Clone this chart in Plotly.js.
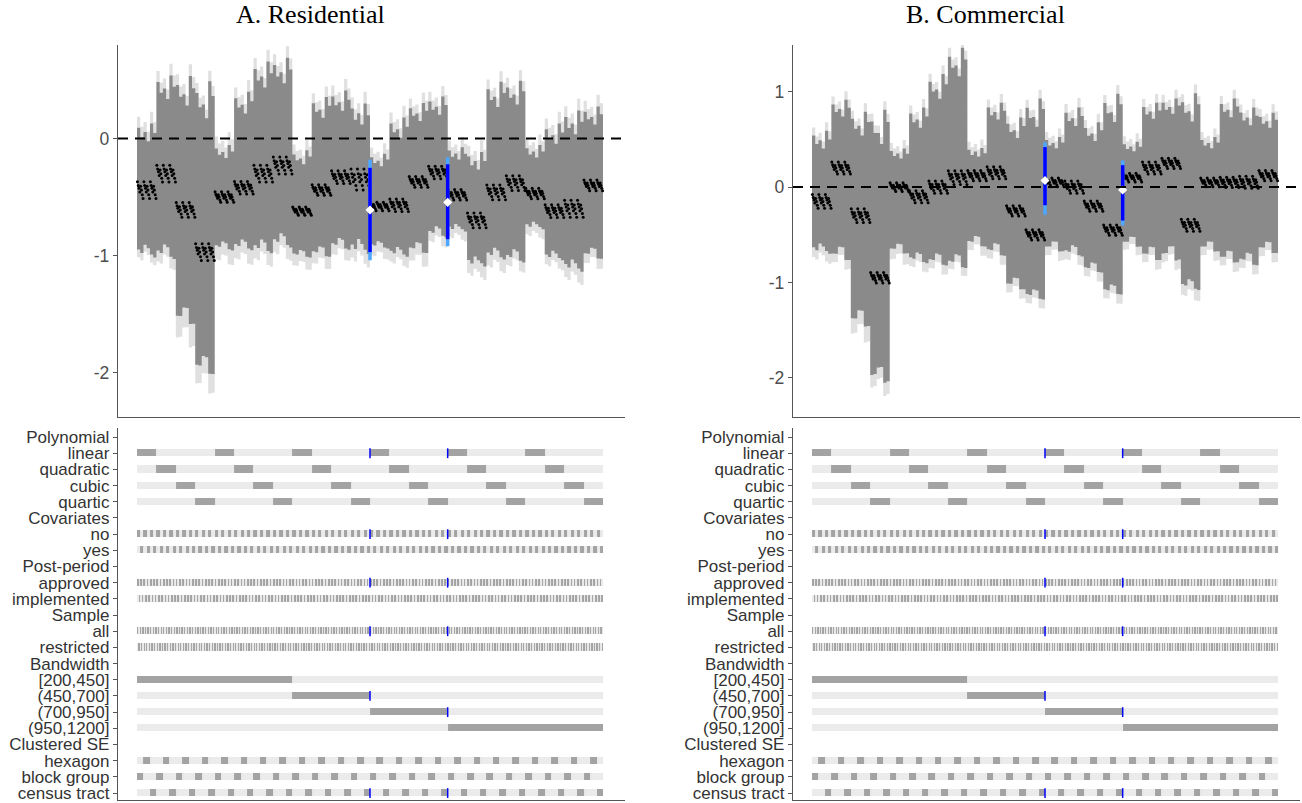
<!DOCTYPE html>
<html><head><meta charset="utf-8">
<script src="https://cdn.plot.ly/plotly-3.0.1.min.js"></script>
<style>html,body{margin:0;padding:0;background:#fff;}#chart{width:1302px;height:803px;}</style>
</head><body><div id="chart"></div>
<script>
// ---- specification dimensions ----
const polynomials = ['linear','quadratic','cubic','quartic'];
const bandwidthBins = ['[200,450]','(450,700]','(700,950]','(950,1200]'];
const cycleBin = [0,0,1,2,3,3];            // bandwidth bin of each of the 6 bandwidth cycles
const clusterOrder = ['block group','hexagon','census tract'];
const covariateVals = ['no','yes'];
const postVals = ['approved','implemented'];
const sampleVals = ['all','restricted'];
const rowLabels = ['Polynomial','linear','quadratic','cubic','quartic','Covariates','no','yes',
  'Post-period','approved','implemented','Sample','all','restricted','Bandwidth',
  '[200,450]','(450,700]','(700,950]','(950,1200]','Clustered SE','hexagon','block group','census tract'];
const yTickVals = [-2,-1,0,1];
const yTickText = ['-2','-1','0','1'];

// ---- A. Residential: per block (bandwidth cycle x polynomial) ----
const resEst   = [-0.44,-0.30,-0.61,-0.97,-0.50,-0.42,-0.30,-0.23,-0.62,-0.44,-0.33,-0.35,-0.58,-0.57,-0.37,-0.29,-0.48,-0.70,-0.46,-0.38,-0.47,-0.62,-0.60,-0.40];
const resSpread= [0.08,0.08,0.07,0.08,0.05,0.06,0.08,0.08,0.04,0.05,0.06,0.10,0.04,0.06,0.05,0.06,0.05,0.07,0.07,0.07,0.05,0.06,0.08,0.05];
const resHi90  = [0.09,0.50,0.50,0.45,-0.08,0.37,0.62,0.65,-0.12,0.33,0.38,0.25,-0.15,0.15,0.28,0.33,-0.10,-0.15,0.45,0.46,-0.08,0.10,0.20,0.25];
const resLo90  = [-1.03,-1.05,-1.62,-2.05,-0.97,-0.97,-1.00,-0.95,-1.03,-1.03,-0.97,-1.00,-0.95,-1.02,-1.00,-0.86,-0.80,-1.10,-1.05,-1.08,-0.78,-1.05,-1.15,-1.05];
const resHi95  = [0.19,0.60,0.60,0.54,0.03,0.47,0.72,0.75,-0.03,0.42,0.48,0.35,-0.06,0.25,0.37,0.42,-0.01,-0.05,0.54,0.55,0.01,0.20,0.30,0.35];
const resLo95  = [-1.10,-1.15,-1.82,-2.22,-1.10,-1.10,-1.12,-1.07,-1.14,-1.14,-1.07,-1.12,-1.05,-1.12,-1.12,-0.95,-0.89,-1.22,-1.17,-1.17,-0.87,-1.14,-1.27,-1.14];

// ---- B. Commercial ----
const comEst   = [-0.15,0.20,-0.30,-0.95,0.00,-0.10,0.00,0.10,0.12,0.15,-0.25,-0.50,0.05,0.00,-0.20,-0.45,0.10,0.20,0.25,-0.40,0.05,0.05,0.05,0.12];
const comSpread= [0.08,0.07,0.08,0.06,0.05,0.07,0.07,0.08,0.06,0.07,0.06,0.06,0.05,0.07,0.06,0.06,0.05,0.07,0.06,0.07,0.05,0.06,0.07,0.06];
const comHi90  = [0.55,0.88,0.75,0.78,0.38,0.80,1.15,1.42,0.38,0.85,0.70,0.90,0.50,0.80,0.65,0.95,0.45,0.85,0.90,0.95,0.50,0.90,0.80,0.75];
const comLo90  = [-0.71,-0.80,-1.50,-2.08,-0.72,-0.82,-0.85,-0.88,-0.65,-0.75,-1.10,-1.20,-0.70,-0.75,-0.92,-1.15,-0.65,-0.80,-0.80,-1.10,-0.70,-0.82,-0.85,-0.72];
const comHi95  = [0.64,0.97,0.84,0.87,0.47,0.89,1.24,1.52,0.47,0.94,0.79,0.99,0.59,0.90,0.74,1.04,0.54,0.94,0.99,1.04,0.59,0.99,0.89,0.84];
const comLo95  = [-0.82,-0.90,-1.67,-2.22,-0.84,-0.92,-0.95,-0.97,-0.75,-0.85,-1.20,-1.30,-0.80,-0.85,-1.02,-1.25,-0.74,-0.90,-0.90,-1.22,-0.80,-0.92,-0.95,-0.82];

// within-block variation of the point estimates (covariates x post-period x sample)
const comboOffset = [0.9,0.5,0.2,-0.2,0.4,0.0,-0.5,-0.9];
// variation of the interval width by covariates and by clustered SE
const covOffset   = [0.5,-0.2];
const covScale    = [1.0,0.95];
const clusterScale= [0.93,0.86,1.0];

// highlighted specifications (linear, no covariates, approved, all, census tract)
const hlPos = [287.5,383.5];
const hlBinRow = [17,18];   // (450,700] and (700,950]
const resHl = {est:[-0.61,-0.545], lo90:[-0.97,-0.86], hi90:[-0.25,-0.22], lo95:[-1.04,-0.92], hi95:[-0.18,-0.16]};
const comHl = {est:[0.07,-0.03], lo90:[-0.19,-0.35], hi90:[0.42,0.23], lo95:[-0.29,-0.40], hi95:[0.47,0.28]};

// ---- build specifications ----
const specs = [];
for (let cyc=0; cyc<6; cyc++) for (let p=0; p<4; p++) for (let ci=0; ci<3; ci++)
  for (let cv=0; cv<2; cv++) for (let pp=0; pp<2; pp++) for (let s=0; s<2; s++)
    specs.push({k:cyc*4+p, bin:cycleBin[cyc], p, ci, cv, pp, s, c:cv*4+pp*2+s});
const N = specs.length;

function series(est, spread, hi90, lo90, hi95, lo95){
  const o = {e:[],h9:[],l9:[],h5:[],l5:[]};
  specs.forEach(sp=>{
    const k=sp.k, m=clusterScale[sp.ci]*covScale[sp.cv];
    const e = est[k] + spread[k]*comboOffset[sp.c];
    const ec = est[k] + spread[k]*covOffset[sp.cv];
    o.e.push(e);
    o.h9.push(ec + (hi90[k]-est[k])*m); o.l9.push(ec + (lo90[k]-est[k])*m);
    o.h5.push(ec + (hi95[k]-est[k])*m); o.l5.push(ec + (lo95[k]-est[k])*m);
  });
  return o;
}
const idx = specs.map((_,i)=>i);
const edgeX = idx.map(i=>i-0.5).concat([N-0.5]);
const stepY = a => a.concat([a[a.length-1]]);

// indicator matrix
const z = rowLabels.map(()=>[]);
const header = new Set([0,5,8,11,14,19]);
const clusterRow = {0:21, 1:20, 2:22}; // 0-based rows
specs.forEach(sp=>{
  const on = new Set([1+sp.p, 6+sp.cv, 9+sp.pp, 12+sp.s, 15+sp.bin, clusterRow[sp.ci]]);
  rowLabels.forEach((_,r)=>{ z[r].push(header.has(r)?null:(on.has(r)?1:0)); });
});

const traces = [];
function addPanel(xa, ya, xb, yb, d, hl){
  const S = series(...d);
  traces.push({type:'scatter',mode:'lines',x:edgeX,y:stepY(S.l5),xaxis:xa,yaxis:ya,line:{width:0,shape:'hv'},hoverinfo:'skip',showlegend:false});
  traces.push({type:'scatter',mode:'lines',x:edgeX,y:stepY(S.h5),xaxis:xa,yaxis:ya,line:{width:0,shape:'hv'},fill:'tonexty',fillcolor:'#e0e0e0',hoverinfo:'skip',showlegend:false});
  traces.push({type:'scatter',mode:'lines',x:edgeX,y:stepY(S.l9),xaxis:xa,yaxis:ya,line:{width:0,shape:'hv'},hoverinfo:'skip',showlegend:false});
  traces.push({type:'scatter',mode:'lines',x:edgeX,y:stepY(S.h9),xaxis:xa,yaxis:ya,line:{width:0,shape:'hv'},fill:'tonexty',fillcolor:'#8a8a8a',hoverinfo:'skip',showlegend:false});
  traces.push({type:'scatter',mode:'markers',x:idx,y:S.e,xaxis:xa,yaxis:ya,marker:{size:3,color:'#000'},showlegend:false});
  hlPos.forEach((x,j)=>{
    traces.push({type:'scatter',mode:'lines',x:[x,x],y:[hl.lo95[j],hl.hi95[j]],xaxis:xa,yaxis:ya,line:{color:'#4da6ff',width:3.5},showlegend:false});
    traces.push({type:'scatter',mode:'lines',x:[x,x],y:[hl.lo90[j],hl.hi90[j]],xaxis:xa,yaxis:ya,line:{color:'#0000ff',width:3.5},showlegend:false});
  });
  traces.push({type:'scatter',mode:'markers',x:hlPos,y:hl.est,xaxis:xa,yaxis:ya,marker:{symbol:'diamond',size:7,color:'#fff'},showlegend:false});
  // indicator panel
  traces.push({type:'heatmap',x:idx,y:rowLabels.map((_,r)=>r+1),z:z,xaxis:xb,yaxis:yb,zmin:0,zmax:1,ygap:9,
    colorscale:[[0,'#ebebeb'],[0.5,'#ebebeb'],[0.5,'#a3a3a3'],[1,'#a3a3a3']],showscale:false,hoverinfo:'skip'});
  const hx=[], hy=[];
  hlPos.forEach((x,j)=>{ [2,7,10,13,hlBinRow[j],23].forEach(r=>{hx.push(x);hy.push(r);}); });
  traces.push({type:'scatter',mode:'markers',x:hx,y:hy,xaxis:xb,yaxis:yb,marker:{symbol:'line-ns',size:7,line:{color:'#0000ff',width:1.5}},showlegend:false});
}
addPanel('x','y','x2','y2',[resEst,resSpread,resHi90,resLo90,resHi95,resLo95],resHl);
addPanel('x3','y3','x4','y4',[comEst,comSpread,comHi90,comLo90,comHi95,comLo95],comHl);

const W=1302,H=803;
const px = (a,b)=>[a/W,b/W];
const py = (top,bot)=>[1-bot/H,1-top/H];
const xr = [-24,602.7];
const font = {family:'Liberation Sans, Arial, sans-serif'};
const topX = d=>({domain:d,range:xr,showline:true,linecolor:'#555',linewidth:1.2,showticklabels:false,ticks:'',showgrid:false,zeroline:false,fixedrange:true});
const topY = (d,r,a)=>({domain:d,range:r,anchor:a,tickvals:yTickVals,ticktext:yTickText,ticks:'outside',ticklen:4,tickcolor:'#555',showline:true,linecolor:'#555',linewidth:1.2,showgrid:false,zeroline:false,tickfont:{size:17.5,color:'#4d4d4d'}});
const botY = (d,a)=>({domain:d,range:[23.43,0.44],anchor:a,tickvals:rowLabels.map((_,r)=>r+1),ticktext:rowLabels,ticks:'outside',ticklen:4,tickcolor:'#555',showline:true,linecolor:'#555',linewidth:1.2,showgrid:false,zeroline:false,ticklabeloverflow:'allow',tickfont:{size:17,color:'#333'}});
const dA = px(118,625), dB = px(793,1300);
const layout = {
  width:W,height:H,margin:{l:0,r:0,t:0,b:0},paper_bgcolor:'#fff',plot_bgcolor:'rgba(0,0,0,0)',font:font,
  xaxis:Object.assign(topX(dA),{anchor:'y'}), yaxis:topY(py(45,417),[-2.38,0.80],'x'),
  xaxis2:Object.assign(topX(dA),{anchor:'y2'}), yaxis2:botY(py(428,800),'x2'),
  xaxis3:Object.assign(topX(dB),{anchor:'y3'}), yaxis3:topY(py(45,417),[-2.41,1.49],'x3'),
  xaxis4:Object.assign(topX(dB),{anchor:'y4'}), yaxis4:botY(py(428,800),'x4'),
  shapes:[
    {type:'line',xref:'x domain',yref:'y',x0:0,x1:1,y0:0,y1:0,layer:'above',line:{color:'#000',width:2,dash:'10px,7px'}},
    {type:'line',xref:'x3 domain',yref:'y3',x0:0,x1:1,y0:0,y1:0,layer:'above',line:{color:'#000',width:2,dash:'10px,7px'}}
  ],
  annotations:[
    {text:'A. Residential',xref:'paper',yref:'paper',x:310/W,xanchor:'center',y:1,yanchor:'top',yshift:2,showarrow:false,font:{family:'Liberation Serif, serif',size:26,color:'#000'}},
    {text:'B. Commercial',xref:'paper',yref:'paper',x:985/W,xanchor:'center',y:1,yanchor:'top',yshift:2,showarrow:false,font:{family:'Liberation Serif, serif',size:26,color:'#000'}}
  ],
  showlegend:false
};
Plotly.newPlot('chart',traces,layout,{staticPlot:true});
</script></body></html>
